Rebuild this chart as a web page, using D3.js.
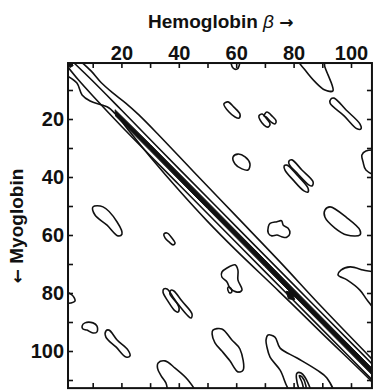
<!DOCTYPE html>
<html>
<head>
<meta charset="utf-8">
<script src="https://cdn.jsdelivr.net/npm/d3@7"></script>
<style>
  body { margin: 0; background: #fff; }
  svg { display: block; font-family: "Liberation Sans", Arial, sans-serif; }
</style>
</head>
<body>
<div id="chart"></div>
<script>
"use strict";

// axis ticks (residue numbers)
var topTicks = [10, 20, 30, 40, 50, 60, 70, 80, 90, 100];
var sideTicks = [10, 20, 30, 40, 50, 60, 70, 80, 90, 100, 110];
var tickLabels = [20, 40, 60, 80, 100];
var xExtent = [1.4, 107.3];   // hemoglobin beta residues shown
var yExtent = [0.7, 112.8];   // myoglobin residues shown

// main diagonal: contour lines as [beta residue, myoglobin residue]
var diagOuterUpper = [[6.5,0.7],[9.5,3.5],[13,7.5],[17,11],[21.5,14.5],[26,18.5],[33,25.5],[45,38],[60,53.5],[75,69],[90,85],[110,105.5]];
var diagOuterLower = [[1.3,5.2],[4.5,7.6],[6.3,11.7],[9.1,13.8],[13.2,15.2],[15.7,16.2],[19,19.5],[23,24.5],[30,33],[40,44.5],[50,55.3],[60,65.3],[75,79.5],[90,94],[107,110.3],[110,113.5]];
var diagMidUpper = [[3.5,0.7],[10,6.9],[20,16.9],[40,37.1],[60,57.1],[80,77.1],[100,97.1],[112,109.1]];
var diagMidLower = [[1.3,2],[5,6.5],[10,12],[20,22.5],[40,42.6],[60,62.6],[80,82.6],[100,102.6],[112,114.6]];
var diagCore = [[17.8,16.8],[30,28.7],[50,48.6],[70,68.6],[90,88.6],[110,108.6],[110,110.9],[90,90.9],[70,70.9],[50,50.9],[30,30.9],[18,19]];
var cornerCore = [[1.2,0.6],[2.6,0.6],[3.2,1.6],[2.2,2.2],[1.2,1.6]];
var notchCore = [[77.4,79.4],[79.5,79.8],[80.4,82.3],[78.2,82]];

// off-diagonal contour islands
var islands = [
  [[81.2,-1],[84,3.1],[87.5,7.2],[90.9,10],[93.7,10.3],[93.4,8.3],[92,4.8],[90.9,2.1],[90.2,-1]],
  [[58.2,-1],[58.9,2.4],[60.3,2.8],[61,1.7],[61,-1]],
  [[55.7,14.8],[57.1,14.1],[59.2,15.9],[61.3,18.3],[61,19.7],[59.6,19.3],[57.5,17.6]],
  [[67.9,19],[69,18.3],[70.7,20],[71.8,21.7],[71.1,22.8],[69.7,22.1],[68.3,20.3]],
  [[69.7,18.9],[70.7,17.6],[72.5,19],[73.9,20.7],[73.5,21.7],[72.1,21],[70.4,19.3]],
  [[93,13.1],[94.1,12.8],[98.3,16.9],[103.1,21.7],[103.5,23.4],[102.1,23.4],[97.6,18.9],[92.7,14.5]],
  [[110,31.4],[105.2,31],[103.8,32.4],[104.2,34.8],[105.2,37.6],[110,39.5]],
  [[76.7,36.2],[77.7,35.9],[81.2,39.3],[85,43.8],[85,45.2],[83.6,44.8],[79.8,41],[77,37.6]],
  [[78.4,34.5],[79.4,34.1],[82.9,37.6],[86.8,41.7],[86.4,43.1],[85.4,42.8],[81.5,39],[78.4,35.5]],
  [[58.9,33.1],[60.6,32.1],[63.1,33.1],[64.8,35.5],[64.1,37.6],[62,37.2],[59.6,35.5]],
  [[10.1,50.3],[13.6,50.3],[18.5,55.5],[20.2,59.7],[18.8,60.3],[15,56.6],[10.8,53.1]],
  [[34.8,59.7],[35.9,59.3],[37.6,61],[38.7,62.8],[38,63.4],[36.6,62.4],[35.2,61]],
  [[71.2,57.1],[71.8,56],[74.2,55.4],[75.8,55.1],[76.4,56.6],[78.1,57.7],[78.7,59.4],[77.6,60.8],[75.8,60.6],[74.2,60],[72.4,60.3],[71.2,59.4]],
  [[90.9,51.4],[92.7,50.3],[98.6,54.1],[103.1,58.3],[103.1,60],[98.6,60],[94.4,57.6],[90.9,53.8]],
  [[96.5,72.1],[99.7,71],[104.2,72.1],[110,74],[110,87],[105.6,82.4],[103.1,79],[98.6,75.5],[95.5,73.8]],
  [[55,72.8],[56.8,71.4],[59.6,70.3],[60.6,72.1],[60.6,75.5],[62,79],[60.3,79.7],[57.8,78.3],[56.8,76.2],[55,74.5]],
  [[57.2,78],[58,78.2],[58.5,79.6],[57.8,80],[57.1,79]],
  [[34.8,78.6],[35.9,78.6],[38,81.4],[40.1,85.2],[39.7,86.6],[38.7,86.2],[36.2,82.8],[34.5,79.7]],
  [[37.3,79],[38.3,79.3],[41.1,82.8],[44.6,87.2],[44.3,88.6],[43.2,87.9],[39.7,83.8],[36.9,80.3]],
  [[6.3,91.4],[7.3,90.3],[10.1,90.3],[11.5,91.4],[11.5,93.4],[10.1,93.8],[8,92.8],[6.6,92.4]],
  [[14.6,93.1],[15.7,92.8],[18.5,96.2],[22.3,99.7],[23,101.7],[21.6,102.1],[18.1,98.6],[14.6,95.2]],
  [[51.9,92.8],[55,92.4],[58.5,96.2],[61.3,99.3],[62.4,106.6],[60.6,107.2],[57.8,103.4],[55,100],[52.6,97.2],[51.6,94.1]],
  [[32.8,104.1],[35.2,103.4],[38.7,105.9],[43.2,110],[46,115],[37,115],[35.5,111],[33.8,108.5],[32.6,106]],
  [[71.1,94.5],[73.5,95.2],[75.3,99],[81.2,102.4],[88.2,106.6],[91.6,109.3],[93.7,115],[79.8,115],[75.3,106.6],[71.8,102.1],[70.7,98.6],[70.4,96.2]],
  [[81.2,107.6],[82.6,107.6],[85,111],[86,115],[83,115],[81,109.5]],
  [[82,108.5],[83,109],[84.3,112],[84,115],[83,111]],
  [[-1,79.2],[2.8,80.7],[3.8,82.8],[-1,83.3]]
];

var width = 373, height = 390;

var x = d3.scaleLinear().domain([0, 100]).range([64, 351]);
var y = d3.scaleLinear().domain([0, 100]).range([61, 351]);

var svg = d3.select("#chart").append("svg")
  .attr("width", width)
  .attr("height", height);

var plotLeft = x(xExtent[0]), plotRight = x(xExtent[1]);
var plotTop = y(yExtent[0]), plotBottom = y(yExtent[1]);

svg.append("clipPath").attr("id", "plot-clip")
  .append("rect")
  .attr("x", plotLeft).attr("y", plotTop)
  .attr("width", plotRight - plotLeft).attr("height", plotBottom - plotTop);

var plot = svg.append("g").attr("clip-path", "url(#plot-clip)");

var openLine = d3.line()
  .x(function(d) { return x(d[0]); })
  .y(function(d) { return y(d[1]); })
  .curve(d3.curveCatmullRom.alpha(0.5));

var closedLine = d3.line()
  .x(function(d) { return x(d[0]); })
  .y(function(d) { return y(d[1]); })
  .curve(d3.curveCatmullRomClosed.alpha(0.5));

var polyLine = d3.line()
  .x(function(d) { return x(d[0]); })
  .y(function(d) { return y(d[1]); })
  .curve(d3.curveLinearClosed);

// filled core of the diagonal
plot.selectAll(".core")
  .data([diagCore, cornerCore, notchCore])
  .enter().append("path")
  .attr("class", "core")
  .attr("d", polyLine)
  .attr("fill", "#111")
  .attr("stroke", "#111")
  .attr("stroke-width", 1);

plot.selectAll(".diag")
  .data([diagOuterUpper, diagOuterLower, diagMidUpper, diagMidLower])
  .enter().append("path")
  .attr("class", "diag")
  .attr("d", openLine)
  .attr("fill", "none")
  .attr("stroke", "#111")
  .attr("stroke-width", 1.6);

plot.selectAll(".island")
  .data(islands)
  .enter().append("path")
  .attr("class", "island")
  .attr("d", closedLine)
  .attr("fill", "none")
  .attr("stroke", "#111")
  .attr("stroke-width", 1.6)
  .attr("stroke-linejoin", "round");

// axes, ticks pointing inward
function styleAxis(g) {
  g.select(".domain").remove();
  g.selectAll(".tick line").attr("stroke", "#111").attr("stroke-width", 1.6);
  g.selectAll("text")
    .attr("fill", "#111")
    .style("font-family", "'Liberation Sans', Arial, sans-serif")
    .style("font-size", "20px")
    .style("font-weight", "bold");
}
function fmt(d) { return tickLabels.indexOf(d) >= 0 ? d : ""; }

svg.append("g")
  .attr("transform", "translate(0," + plotTop + ")")
  .call(d3.axisTop(x).tickValues(topTicks).tickSizeInner(-5).tickSizeOuter(0).tickPadding(3).tickFormat(fmt))
  .call(styleAxis);

svg.append("g")
  .attr("transform", "translate(0," + plotBottom + ")")
  .call(d3.axisBottom(x).tickValues(topTicks).tickSizeInner(-5).tickSizeOuter(0).tickFormat(""))
  .call(styleAxis);

svg.append("g")
  .attr("transform", "translate(" + plotLeft + ",0)")
  .call(d3.axisLeft(y).tickValues(sideTicks).tickSizeInner(-5).tickSizeOuter(0).tickPadding(4).tickFormat(fmt))
  .call(styleAxis);

svg.append("g")
  .attr("transform", "translate(" + plotRight + ",0)")
  .call(d3.axisRight(y).tickValues(sideTicks).tickSizeInner(-5).tickSizeOuter(0).tickFormat(""))
  .call(styleAxis);

// frame
svg.append("rect")
  .attr("x", plotLeft).attr("y", plotTop)
  .attr("width", plotRight - plotLeft).attr("height", plotBottom - plotTop)
  .attr("fill", "none")
  .attr("stroke", "#111")
  .attr("stroke-width", 2);

// titles
var title = svg.append("text")
  .attr("x", 148).attr("y", 28)
  .attr("fill", "#111")
  .style("font-size", "19px")
  .style("font-weight", "bold")
  .text("Hemoglobin ");
title.append("tspan").style("font-style", "italic").style("font-weight", "normal").text("β");
title.append("tspan").text(" ");
title.append("tspan").style("font-family", "'DejaVu Sans', sans-serif").style("font-size", "17px").text("→");

var yTitle = svg.append("text")
  .attr("transform", "translate(23,226) rotate(-90)")
  .attr("text-anchor", "middle")
  .attr("fill", "#111")
  .style("font-size", "19px")
  .style("font-weight", "bold");
yTitle.append("tspan").style("font-family", "'DejaVu Sans', sans-serif").style("font-size", "17px").text("←");
yTitle.append("tspan").text(" Myoglobin");
</script>
</body>
</html>
